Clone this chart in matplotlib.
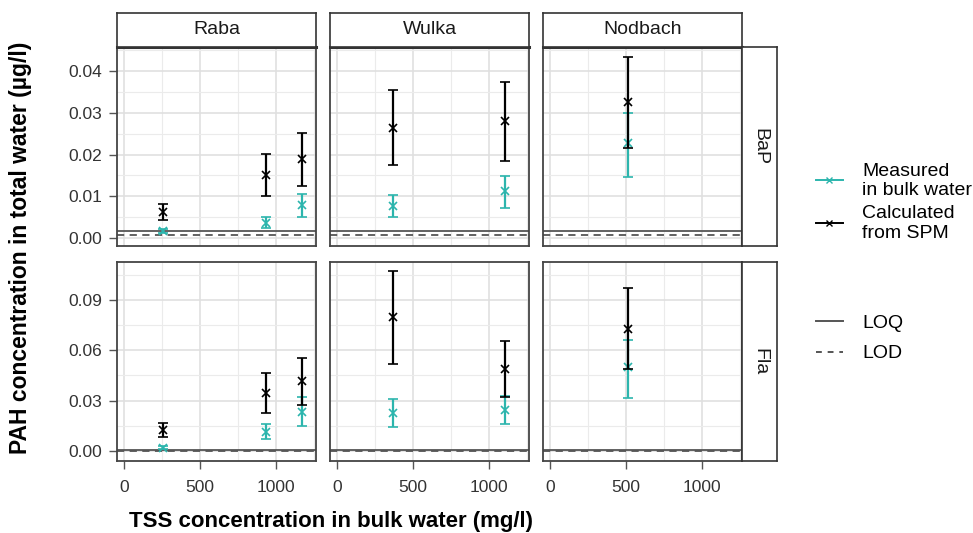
import matplotlib
matplotlib.use("Agg")
from matplotlib import pyplot as plt
from matplotlib.lines import Line2D

plt.rcParams['font.family'] = ['Liberation Sans', 'DejaVu Sans']

sites = ['Raba', 'Wulka', 'Nodbach']
compounds = ['BaP', 'Fla']

# TSS (mg/l) per site
tss = {'Raba': [255, 935, 1170], 'Wulka': [368, 1103], 'Nodbach': [513]}

# measured in bulk water: value, low, high
meas = {
    ('Raba', 'BaP'): ([0.0017, 0.0037, 0.0079], [0.0012, 0.0023, 0.0051], [0.0022, 0.0051, 0.0106]),
    ('Wulka', 'BaP'): ([0.0077, 0.0113], [0.0051, 0.0073], [0.0103, 0.0149]),
    ('Nodbach', 'BaP'): ([0.0227], [0.0147], [0.0300]),
    ('Raba', 'Fla'): ([0.0020, 0.0115, 0.0234], [0.0010, 0.0072, 0.0151], [0.0030, 0.0159, 0.0324]),
    ('Wulka', 'Fla'): ([0.0228, 0.0244], [0.0145, 0.0161], [0.0308, 0.0330]),
    ('Nodbach', 'Fla'): ([0.0499], [0.0318], [0.0662]),
}
# calculated from SPM: value, low, high
calc = {
    ('Raba', 'BaP'): ([0.0063, 0.0151, 0.0189], [0.0043, 0.0101, 0.0125], [0.0082, 0.0201, 0.0251]),
    ('Wulka', 'BaP'): ([0.0265, 0.0281], [0.0175, 0.0185], [0.0355, 0.0375]),
    ('Nodbach', 'BaP'): ([0.0325], [0.0215], [0.0435]),
    ('Raba', 'Fla'): ([0.0125, 0.0348, 0.0417], [0.0085, 0.0225, 0.0274], [0.0165, 0.0467, 0.0556]),
    ('Wulka', 'Fla'): ([0.0800, 0.0487], [0.0519, 0.0324], [0.1075, 0.0656]),
    ('Nodbach', 'Fla'): ([0.0727], [0.0489], [0.0970]),
}
loq = {'BaP': 0.0016, 'Fla': 0.0006}
lod = {'BaP': 0.0008, 'Fla': 0.0002}

ylims = {'BaP': (-0.0019, 0.0458), 'Fla': (-0.006, 0.1127)}
yticks = {'BaP': [0.00, 0.01, 0.02, 0.03, 0.04], 'Fla': [0.00, 0.03, 0.06, 0.09]}
yminor = {'BaP': [0.005, 0.015, 0.025, 0.035, 0.045], 'Fla': [0.015, 0.045, 0.075, 0.105]}

teal = '#2cb5ad'
W, H = 973, 533
fig = plt.figure(figsize=(W / 100, H / 100), dpi=100)

col_x = [117, 330, 543]
pw = 199
row_y = [47, 262]
ph = 199


def fx(px):
    return px / W


def fy(py):
    return 1 - py / H


def strip(rect, label, rot):
    sax = fig.add_axes(rect)
    sax.set_xticks([])
    sax.set_yticks([])
    for s in sax.spines.values():
        s.set_color('#333333')
        s.set_linewidth(1.2)
    sax.text(0.5, 0.5, label, ha='center', va='center', fontsize=14,
             rotation=rot, color='#1a1a1a', transform=sax.transAxes)
    return sax


for r, comp in enumerate(compounds):
    for c, site in enumerate(sites):
        ax = fig.add_axes([fx(col_x[c]), fy(row_y[r] + ph), fx(pw), ph / H])
        ax.set_xlim(-46, 1263)
        ax.set_ylim(*ylims[comp])
        ax.set_xticks([0, 500, 1000])
        ax.set_xticks([250, 750, 1250], minor=True)
        ax.set_yticks(yticks[comp])
        ax.set_yticks(yminor[comp], minor=True)
        ax.grid(True, which='major', color='#e0e0e0', lw=1.2, zorder=0)
        ax.grid(True, which='minor', color='#ebebeb', lw=0.8, zorder=0)
        ax.set_axisbelow(True)
        ax.tick_params(which='minor', length=0)
        ax.tick_params(which='major', length=5.8, color='#555555', labelsize=12.5,
                       labelcolor='#333333', width=1.0, pad=5)
        for s in ax.spines.values():
            s.set_color('#444444')
            s.set_linewidth(1.3)
        if c > 0:
            ax.set_yticklabels([])
            ax.tick_params(axis='y', length=0)
        else:
            ax.set_yticklabels(['%.2f' % v for v in yticks[comp]])
        if r == 0:
            ax.set_xticklabels([])
            ax.tick_params(axis='x', length=0)
            ax.spines['top'].set_linewidth(2.2)
            ax.spines['top'].set_color('#333333')
        else:
            ax.tick_params(axis='x', pad=8)

        ax.axhline(loq[comp], color='#555555', lw=1.3, ls='-', zorder=1)
        ax.axhline(lod[comp], color='#555555', lw=1.3, ls=(0, (4, 3)), zorder=1)

        x = tss[site]
        for z, (data, col) in enumerate(((meas[(site, comp)], teal), (calc[(site, comp)], 'black'))):
            v, lo, hi = data
            err = [[a - b for a, b in zip(v, lo)], [b - a for a, b in zip(v, hi)]]
            ax.errorbar(x, v, yerr=err, fmt='x', color=col, ms=6, mew=1.2,
                        elinewidth=1.6, capsize=3.5, capthick=1.6, zorder=3 + z)

        if r == 0:
            strip([fx(col_x[c]), fy(row_y[0]), fx(pw), 34 / H], site, 0)
        if c == 2:
            strip([fx(742), fy(row_y[r] + ph), fx(35), ph / H], comp, -90)

fig.text(fx(21), fy(248), 'PAH concentration in total water (µg/l)', rotation=90,
         ha='center', va='center', fontsize=16.5, fontweight='bold')
fig.text(fx(331), fy(521), 'TSS concentration in bulk water (mg/l)',
         ha='center', va='center', fontsize=16, fontweight='bold')

h1 = [Line2D([], [], color=teal, marker='x', ms=5, lw=1.4),
      Line2D([], [], color='black', marker='x', ms=5, lw=1.4)]
fig.legend(h1, ['Measured\nin bulk water', 'Calculated\nfrom SPM'],
           loc='upper left', bbox_to_anchor=(fx(798), fy(145)), frameon=False,
           fontsize=14, handlelength=1.4, labelspacing=0.3, handletextpad=1.0)
h2 = [Line2D([], [], color='#555555', lw=1.4),
      Line2D([], [], color='#555555', lw=1.4, ls=(0, (3, 3)))]
fig.legend(h2, ['LOQ', 'LOD'], loc='upper left', bbox_to_anchor=(fx(798), fy(297)),
           frameon=False, fontsize=14, handlelength=1.4, labelspacing=0.65,
           handletextpad=1.0)

fig.savefig('out.png', dpi=100)
